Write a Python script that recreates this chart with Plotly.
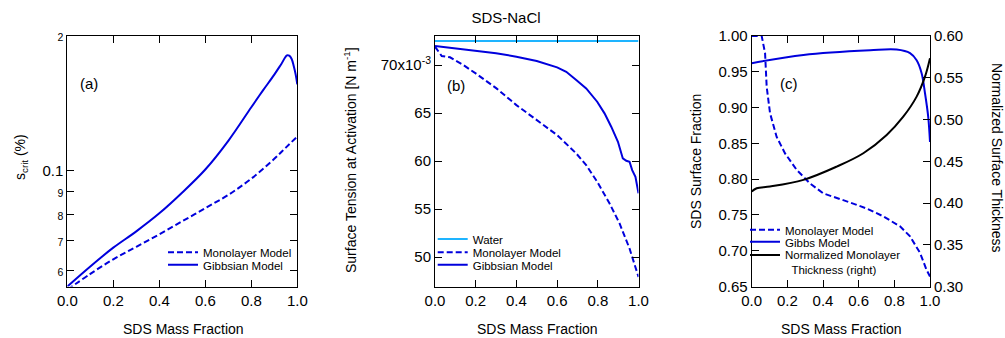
import plotly.graph_objects as go

# ---------------- data ----------------
# Panel (a): critical supersaturation (%), log axis
a_x_gibbs = [0.0, 0.1, 0.2, 0.3, 0.4, 0.5, 0.6, 0.7, 0.8, 0.85, 0.9, 0.93, 0.955, 0.965, 0.975, 0.985, 0.993, 1.0]
a_y_gibbs = [0.0552, 0.0612, 0.0674, 0.0733, 0.0804, 0.0895, 0.1007, 0.1167, 0.1387, 0.151, 0.164, 0.173, 0.181, 0.1807, 0.178, 0.171, 0.164, 0.156]
a_x_mono = [0.0, 0.1, 0.2, 0.3, 0.4, 0.5, 0.6, 0.7, 0.8, 0.9, 0.95, 1.0]
a_y_mono = [0.0543, 0.0589, 0.0635, 0.0677, 0.0722, 0.0772, 0.0826, 0.0884, 0.0961, 0.1064, 0.1127, 0.1193]

# Panel (b): surface tension at activation (N m^-1)
b_x_water = [0.0, 1.0]
b_y_water = [0.0725, 0.0725]
b_x_gibbs = [0.0, 0.1, 0.2, 0.3, 0.4, 0.5, 0.6, 0.645, 0.694, 0.743, 0.797, 0.833, 0.866, 0.899,
             0.923, 0.94, 0.956, 0.969, 0.985, 1.0]
b_y_gibbs = [0.07198, 0.07174, 0.07146, 0.07122, 0.07087, 0.07042, 0.06976, 0.06930, 0.06844, 0.06757,
             0.06618, 0.06497, 0.06358, 0.06201, 0.06028, 0.06003, 0.05993, 0.05906, 0.05836, 0.05664]
b_x_mono = [0.0, 0.033, 0.074, 0.139, 0.2, 0.302, 0.4, 0.5, 0.6, 0.694, 0.743, 0.797, 0.858, 0.907, 0.956, 1.0]
b_y_mono = [0.07191, 0.07094, 0.07080, 0.07000, 0.06913, 0.06757, 0.06583, 0.06427, 0.06271, 0.06080,
            0.05958, 0.05785, 0.05559, 0.05351, 0.05090, 0.04795]

# Panel (c): SDS surface fraction (left) and normalized thickness (right)
c_x_mono = [0.0, 0.056, 0.075, 0.084, 0.103, 0.14, 0.187, 0.252, 0.327, 0.402, 0.533, 0.645, 0.738, 0.832, 0.888, 0.944, 0.981, 1.0]
c_y_mono = [1.0, 1.0, 0.976, 0.929, 0.892, 0.859, 0.836, 0.813, 0.794, 0.780, 0.769, 0.759, 0.748, 0.734, 0.720, 0.697, 0.673, 0.664]
c_x_gibbs = [0.0, 0.29, 0.664, 0.813, 0.888, 0.925, 0.953, 0.972, 0.99, 1.0]
c_y_gibbs = [0.962, 0.9735, 0.980, 0.981, 0.976, 0.966, 0.948, 0.920, 0.887, 0.852]
c_x_thick = [0.0, 0.028, 0.103, 0.29, 0.477, 0.626, 0.757, 0.85, 0.925, 0.972, 1.0]
c_y_thick = [0.4137, 0.4177, 0.4197, 0.4277, 0.4436, 0.4596, 0.4815, 0.5034, 0.5274, 0.5513, 0.5733]

x_ticks = [0.0, 0.2, 0.4, 0.6, 0.8, 1.0]
a_tickvals = [0.06, 0.07, 0.08, 0.09, 0.1, 0.2]
a_ticktext = ['<span style="font-size:10.5px">6</span>', '<span style="font-size:10.5px">7</span>',
              '<span style="font-size:10.5px">8</span>', '<span style="font-size:10.5px">9</span>',
              '0.1', '<span style="font-size:10.5px">2</span>']
b_tickvals = [0.050, 0.055, 0.060, 0.065, 0.070]
b_ticktext = ['50', '55', '60', '65', '70x10<sup>-3</sup>']

BLUE = '#0000dd'
LBLUE = '#1eb4ff'
FONT = 'Liberation Sans'
W, H = 1005, 338

fig = go.Figure()

# (x-position of legend text, y-centre of row) per legend entry, in pixels
def leg(text_x, row_y):
    return dict(x=(text_x - 40) / W, y=1 - (row_y - 15) / H, xanchor='left', yanchor='top',
                bgcolor='rgba(0,0,0,0)', font=dict(family=FONT, size=11.5, color='black'),
                tracegroupgap=0, itemwidth=30, valign='top')

DASH = dict(color=BLUE, width=2, dash='6px,3px')
SOLID = dict(color=BLUE, width=2)

# Panel (a)
fig.add_trace(go.Scatter(x=a_x_mono, y=a_y_mono, mode='lines', name='Monolayer Model', line_shape='spline',
                         line=DASH, xaxis='x', yaxis='y', legend='legend'))
fig.add_trace(go.Scatter(x=a_x_gibbs, y=a_y_gibbs, mode='lines', name='Gibbsian Model', line_shape='spline',
                         line=SOLID, xaxis='x', yaxis='y', legend='legend2'))
# Panel (b)
fig.add_trace(go.Scatter(x=b_x_water, y=b_y_water, mode='lines', name='Water',
                         line=dict(color=LBLUE, width=2), xaxis='x2', yaxis='y2', legend='legend3'))
fig.add_trace(go.Scatter(x=b_x_mono, y=b_y_mono, mode='lines', name='Monolayer Model',
                         line=DASH, xaxis='x2', yaxis='y2', legend='legend4'))
fig.add_trace(go.Scatter(x=b_x_gibbs, y=b_y_gibbs, mode='lines', name='Gibbsian Model',
                         line=SOLID, xaxis='x2', yaxis='y2', legend='legend5'))
# Panel (c)
fig.add_trace(go.Scatter(x=c_x_mono, y=c_y_mono, mode='lines', name='Monolayer Model',
                         line=DASH, xaxis='x3', yaxis='y3', legend='legend6'))
fig.add_trace(go.Scatter(x=c_x_gibbs, y=c_y_gibbs, mode='lines', name='Gibbs Model', line_shape='spline',
                         line=SOLID, xaxis='x3', yaxis='y3', legend='legend7'))
fig.add_trace(go.Scatter(x=c_x_thick, y=c_y_thick, mode='lines',
                         name='Normalized Monolayer<br>\u00a0\u00a0Thickness (right)',
                         line_shape='spline',
                         line=dict(color='black', width=2), xaxis='x3', yaxis='y4', legend='legend8'))

ydom = [1 - 286.5 / H, 1 - 36 / H]
common_ax = dict(showline=True, linecolor='black', linewidth=1, ticks='inside', ticklen=7,
                 tickcolor='black', showgrid=False, zeroline=False, automargin=False,
                 tickfont=dict(family=FONT, size=15, color='black'))

fig.update_layout(
    width=W, height=H, margin=dict(l=0, r=0, t=0, b=0),
    paper_bgcolor='white', plot_bgcolor='white',
    font=dict(family=FONT, color='black'),
    title=dict(text='SDS-NaCl', x=506 / W, y=1 - 18 / H, xanchor='center', yanchor='middle',
               font=dict(family=FONT, size=15, color='black')),
    xaxis=dict(domain=[67.3 / W, 297.3 / W], range=[0, 1], tickvals=x_ticks, tickformat='.1f',
               mirror='ticks', anchor='y', **common_ax),
    yaxis=dict(domain=ydom, type='log', range=[-1.258, -0.699], tickvals=a_tickvals, ticktext=a_ticktext,
               mirror='ticks', anchor='x', **common_ax),
    xaxis2=dict(domain=[435 / W, 638.5 / W], range=[0, 1], tickvals=x_ticks, tickformat='.1f',
                mirror='ticks', anchor='y2', **common_ax),
    yaxis2=dict(domain=ydom, range=[0.04695, 0.07302], tickvals=b_tickvals, ticktext=b_ticktext,
                mirror='ticks', anchor='x2', **common_ax),
    xaxis3=dict(domain=[751.7 / W, 930 / W], range=[0, 1], tickvals=x_ticks, tickformat='.1f',
                mirror='ticks', anchor='y3', **common_ax),
    yaxis3=dict(domain=ydom, range=[0.65, 1.0], dtick=0.05, tickformat='.2f', anchor='x3', **common_ax),
    yaxis4=dict(domain=ydom, range=[0.30, 0.60], dtick=0.05, tickformat='.2f', anchor='x3',
                overlaying='y3', side='right', **common_ax),
    legend=leg(203, 253.3),
    legend2=leg(203, 265.7),
    legend3=leg(472.7, 240),
    legend4=leg(472.7, 253.3),
    legend5=leg(472.7, 265.7),
    legend6=leg(785, 230.7),
    legend7=leg(785, 242.7),
    legend8=leg(785, 256),
    showlegend=True,
)

ann = []
def add_text(text, x, y, size=14, angle=0):
    ann.append(dict(text=text, x=x / W, y=1 - y / H, xref='paper', yref='paper', showarrow=False,
                    xanchor='center', yanchor='middle', textangle=angle,
                    font=dict(family=FONT, size=size, color='black')))

add_text('(a)', 88.5, 83, 15)
add_text('(b)', 456, 85, 15)
add_text('(c)', 789, 84, 15)
add_text('SDS Mass Fraction', 183, 329, 14)
add_text('SDS Mass Fraction', 537, 329, 14)
add_text('SDS Mass Fraction', 841, 329, 14)
add_text('s<sub>crit</sub> (%)', 21, 157, 14, -90)
add_text('Surface Tension at Activation [N m<sup>-1</sup>]', 350, 160, 14, -90)
add_text('SDS Surface Fraction', 696, 162, 14, -90)
add_text('Normalized Surface Thickness', 997, 158, 14, 90)
fig.update_layout(annotations=ann)

fig.write_html('out.html')
